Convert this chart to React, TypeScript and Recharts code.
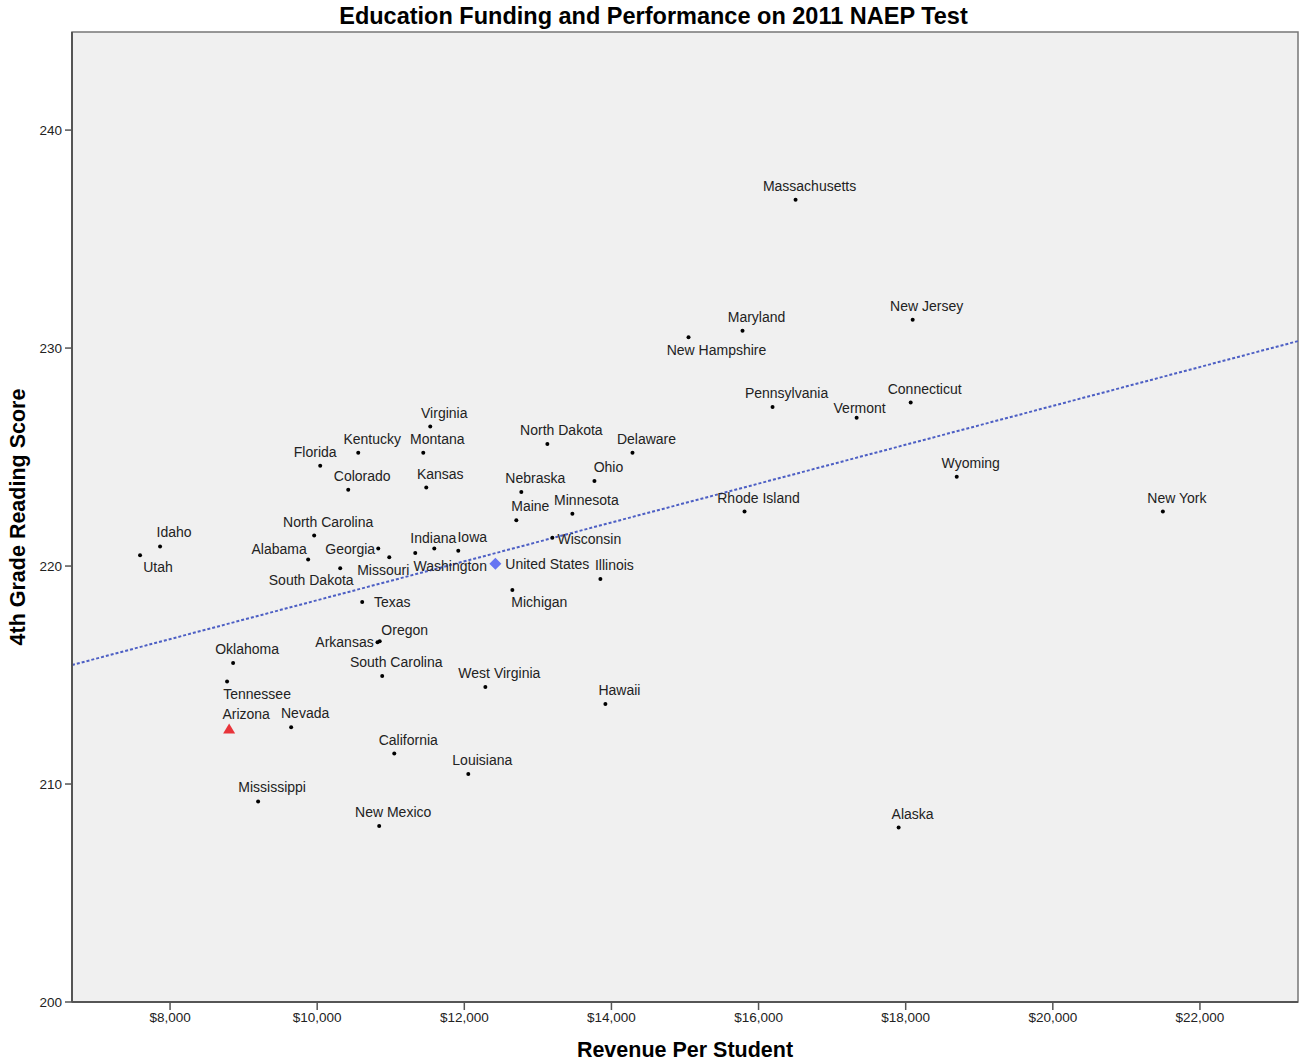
import React from "react";
import {
  ScatterChart,
  Scatter,
  XAxis,
  YAxis,
  ReferenceArea,
  ReferenceLine,
} from "recharts";

// 2011 NAEP 4th grade reading vs revenue per student
const stateNames = [
  "Massachusetts", "New Jersey", "Maryland", "New Hampshire", "Pennsylvania",
  "Vermont", "Connecticut", "Wyoming", "Rhode Island", "New York",
  "Alaska", "Virginia", "Kentucky", "Montana", "Florida",
  "Colorado", "Kansas", "North Dakota", "Delaware", "Ohio",
  "Nebraska", "Maine", "Minnesota", "Wisconsin", "Illinois",
  "Michigan", "North Carolina", "Alabama", "Georgia", "Missouri",
  "South Dakota", "Washington", "Indiana", "Iowa", "Texas",
  "Idaho", "Utah", "Arkansas", "Oregon", "Oklahoma",
  "Tennessee", "Arizona", "Nevada", "South Carolina", "West Virginia",
  "Hawaii", "California", "Louisiana", "Mississippi", "New Mexico",
];

const revenuePerStudent = [
  16503, 18095, 15782, 15048, 16190,
  17333, 18068, 18694, 15809, 21496,
  17904, 11537, 10558, 11442, 10041,
  10422, 11483, 13129, 14286, 13769,
  12775, 12707, 13469, 13197, 13850,
  12653, 9959, 9877, 10830, 10980,
  10313, 11333, 11592, 11918, 10612,
  7864, 7592, 10820, 10850, 8857,
  8775, 8803, 9646, 10884, 12286,
  13918, 11048, 12054, 9197, 10843,
];

const readingScore = [
  236.8, 231.3, 230.8, 230.5, 227.3,
  226.8, 227.5, 224.1, 222.5, 222.5,
  208.0, 226.4, 225.2, 225.2, 224.6,
  223.5, 223.6, 225.6, 225.2, 223.9,
  223.4, 222.1, 222.4, 221.3, 219.4,
  218.9, 221.4, 220.3, 220.8, 220.4,
  219.9, 220.6, 220.8, 220.7, 218.35,
  220.9, 220.5, 216.5, 216.55, 215.55,
  214.7, 212.5, 212.6, 214.95, 214.45,
  213.67, 211.4, 210.46, 209.2, 208.07,
];

const nationName = "United States";
const nationRevenue = 12422;
const nationScore = 220.1;
const highlighted = "Arizona";

// fit line end points at the edges of the x range
const trendRevenue = [6667, 23333];
const trendScore = [215.46, 230.32];

const xTicks = [8000, 10000, 12000, 14000, 16000, 18000, 20000, 22000];
const yTicks = [200, 210, 220, 230, 240];
const xDomain = [6667, 23333];
const yDomain = [200, 244.5];

// label centre offset from the marker, default is up-right
const defaultOffset: [number, number] = [14, -14];
const labelOffsets: Record<string, [number, number]> = {
  "New Hampshire": [28, 13],
  Vermont: [3, -10],
  Florida: [-5, -14],
  Wisconsin: [37, 1],
  "United States": [52, 0],
  Michigan: [27, 12],
  Alabama: [-29, -11],
  Georgia: [-28, 0],
  Missouri: [-6, 13],
  "South Dakota": [-29, 12],
  Washington: [35, 13],
  Indiana: [-1, -11],
  Texas: [30, 0],
  Utah: [18, 12],
  Arkansas: [-33, 0],
  Oregon: [25, -11],
  Tennessee: [30, 12],
  Arizona: [17, -16],
};

const stateData = stateNames
  .map((name, i) => ({ name, revenue: revenuePerStudent[i], score: readingScore[i] }))
  .filter((d) => d.name !== highlighted);
const highlightData = stateNames
  .map((name, i) => ({ name, revenue: revenuePerStudent[i], score: readingScore[i] }))
  .filter((d) => d.name === highlighted);
const nationData = [{ name: nationName, revenue: nationRevenue, score: nationScore }];

const FONT = '"Liberation Sans", Arial, sans-serif';

function PointLabel({ cx, cy, name }: { cx: number; cy: number; name: string }) {
  const [dx, dy] = labelOffsets[name] ?? defaultOffset;
  return (
    <text
      x={cx + dx}
      y={cy + dy}
      textAnchor="middle"
      dominantBaseline="central"
      fontSize={14}
      fontFamily={FONT}
      fill="#222"
    >
      {name}
    </text>
  );
}

const dotShape = (props: any) => {
  const { cx, cy, payload } = props;
  return (
    <g>
      <circle cx={cx} cy={cy} r={2} fill="#000" />
      <PointLabel cx={cx} cy={cy} name={payload.name} />
    </g>
  );
};

const diamondShape = (props: any) => {
  const { cx, cy, payload } = props;
  const s = 6;
  return (
    <g>
      <path d={`M${cx},${cy - s}L${cx + s},${cy}L${cx},${cy + s}L${cx - s},${cy}Z`} fill="#6674f2" />
      <PointLabel cx={cx} cy={cy} name={payload.name} />
    </g>
  );
};

const triangleShape = (props: any) => {
  const { cx, cy, payload } = props;
  return (
    <g>
      <path d={`M${cx},${cy - 6}L${cx + 6},${cy + 4}L${cx - 6},${cy + 4}Z`} fill="#e8343a" />
      <PointLabel cx={cx} cy={cy} name={payload.name} />
    </g>
  );
};

const formatDollar = (v: number) => "$" + v.toLocaleString("en-US");

export default function App() {
  return (
    <div style={{ position: "absolute", left: 0, top: 0, width: 1299, height: 1064, fontFamily: FONT }}>
      <div
        style={{
          position: "absolute",
          left: 4,
          top: 0,
          width: 1299,
          height: 32,
          lineHeight: "32px",
          textAlign: "center",
          fontSize: 23.5,
          fontWeight: "bold",
          color: "#000",
        }}
      >
        Education Funding and Performance on 2011 NAEP Test
      </div>
      <ScatterChart width={1299} height={1064} margin={{ top: 32, right: 1, left: 0, bottom: 0 }}>
        <XAxis
          type="number"
          dataKey="revenue"
          domain={xDomain}
          ticks={xTicks}
          allowDataOverflow
          height={62}
          tickSize={8}
          tickMargin={2}
          tickFormatter={formatDollar}
          tick={{ fontSize: 13.5, fill: "#222", fontFamily: FONT }}
          axisLine={{ stroke: "#555", strokeWidth: 2 }}
          tickLine={{ stroke: "#555", strokeWidth: 1.5 }}
        />
        <YAxis
          type="number"
          dataKey="score"
          domain={yDomain}
          ticks={yTicks}
          allowDataOverflow
          width={72}
          tickSize={7}
          tickMargin={3}
          tick={{ fontSize: 13.5, fill: "#222", fontFamily: FONT }}
          axisLine={{ stroke: "#555", strokeWidth: 2 }}
          tickLine={{ stroke: "#555", strokeWidth: 1.5 }}
        />
        <ReferenceArea
          x1={xDomain[0]}
          x2={xDomain[1]}
          y1={yDomain[0]}
          y2={yDomain[1]}
          fill="#f0f0f0"
          fillOpacity={1}
          stroke="#777"
          strokeWidth={1.5}
        />
        <ReferenceLine
          segment={[
            { x: trendRevenue[0], y: trendScore[0] },
            { x: trendRevenue[1], y: trendScore[1] },
          ]}
          stroke="#4d5fc4"
          strokeWidth={2}
          strokeDasharray="3 2"
        />
        <Scatter data={stateData} shape={dotShape} isAnimationActive={false} />
        <Scatter data={highlightData} shape={triangleShape} isAnimationActive={false} />
        <Scatter data={nationData} shape={diamondShape} isAnimationActive={false} />
      </ScatterChart>
      <div
        style={{
          position: "absolute",
          left: 72,
          top: 1037,
          width: 1226,
          height: 26,
          lineHeight: "26px",
          textAlign: "center",
          fontSize: 21.5,
          fontWeight: "bold",
          color: "#000",
        }}
      >
        Revenue Per Student
      </div>
      <div
        style={{
          position: "absolute",
          left: 18 - 200,
          top: 517 - 13,
          width: 400,
          height: 26,
          lineHeight: "26px",
          textAlign: "center",
          fontSize: 21.5,
          fontWeight: "bold",
          color: "#000",
          transform: "rotate(-90deg)",
        }}
      >
        4th Grade Reading Score
      </div>
    </div>
  );
}
